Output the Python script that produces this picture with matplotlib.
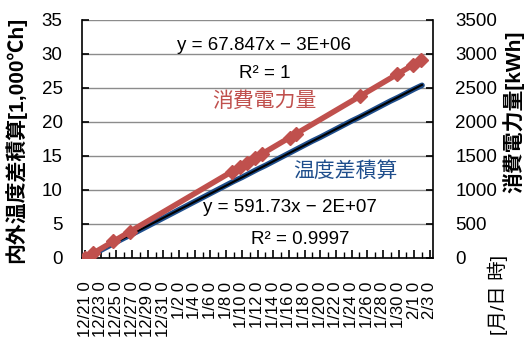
import matplotlib
matplotlib.use("Agg")
import matplotlib.pyplot as plt
import numpy as np

plt.rcParams['font.family'] = ['Liberation Sans', 'Noto Sans CJK JP', 'DejaVu Sans']
JP = ['Liberation Sans', 'Noto Sans CJK JP', 'DejaVu Sans']

# x positions are days elapsed since 12/21 0:00
tick_days = list(range(0, 45, 2))
tick_labels = ['12/21 0', '12/23 0', '12/25 0', '12/27 0', '12/29 0', '12/31 0',
               '1/2 0', '1/4 0', '1/6 0', '1/8 0', '1/10 0', '1/12 0', '1/14 0',
               '1/16 0', '1/18 0', '1/20 0', '1/22 0', '1/24 0', '1/26 0',
               '1/28 0', '1/30 0', '2/1 0', '2/3 0']

# accumulated indoor/outdoor temperature difference [1,000 ℃h], daily
temp_days = list(range(0, 44))
temp_accum = [0.0, 0.55, 1.15, 1.75, 2.35, 2.95, 3.5, 4.1, 4.7, 5.3, 5.9, 6.5,
              7.1, 7.7, 8.3, 8.9, 9.5, 10.1, 10.7, 11.3, 11.85, 12.45, 13.05,
              13.6, 14.2, 14.8, 15.4, 16.0, 16.6, 17.2, 17.75, 18.35, 18.95,
              19.55, 20.15, 20.7, 21.3, 21.9, 22.5, 23.1, 23.65, 24.25, 24.85,
              25.4]

# electricity meter readings [kWh]
power_days = [0.0, 1.0, 3.6, 5.7, 18.75, 19.8, 20.7, 21.7, 22.6, 26.1, 26.9,
              35.1, 39.8, 41.8, 42.9]
power_kwh = [0, 68, 244, 387, 1272, 1343, 1404, 1472, 1533, 1771, 1825,
             2381, 2700, 2836, 2911]

red = '#C0504D'
blue = '#1F4E8C'

fig = plt.figure(figsize=(5.26, 3.45), dpi=100)
ax = fig.add_axes([82 / 526, 1 - 258 / 345, (433 - 82) / 526, (258 - 20) / 345])
ax2 = ax.twinx()

ax.set_xlim(-0.4, 44.4)
ax.set_ylim(0, 35)
ax2.set_ylim(0, 3500)

ax.yaxis.grid(True, color='#8c8c8c', linewidth=1.0)
ax.set_axisbelow(True)

# temperature-difference series with its linear trend
ax.plot(temp_days, temp_accum, color=blue, linewidth=4, solid_capstyle='round', zorder=3)
c1 = np.polyfit(temp_days, temp_accum, 1)
xt = np.array([temp_days[0], temp_days[-1]])
ax.plot(xt, np.polyval(c1, xt), color='black', linewidth=1.5, zorder=4)

# electricity series with its linear trend
ax2.plot(power_days, power_kwh, color=red, linewidth=4, marker='D', markersize=7,
         markeredgecolor=red, markerfacecolor=red, zorder=3)
c2 = np.polyfit(power_days, power_kwh, 1)
xp = np.array([power_days[0], power_days[-1]])
ax2.plot(xp, np.polyval(c2, xp), color=red, linewidth=1.5, zorder=4)

# axes styling
for a in (ax, ax2):
    for s in a.spines.values():
        s.set_visible(False)
ax.spines['left'].set_visible(True)
ax.spines['bottom'].set_visible(True)
ax2.spines['right'].set_visible(True)
for sp in (ax.spines['left'], ax.spines['bottom'], ax2.spines['right']):
    sp.set_color('black')
    sp.set_linewidth(1.2)

ax.set_xticks(tick_days)
ax.set_xticks(range(0, 45), minor=True)
ax.set_xticklabels(tick_labels, rotation=90, fontsize=12, va='top', ha='center')
ax.tick_params(axis='x', which='major', direction='in', length=6, width=1.2, pad=17)
ax.tick_params(axis='x', which='minor', direction='in', length=4, width=1.0)

ax.set_yticks(range(0, 36, 5))
ax.tick_params(axis='y', direction='in', length=5, width=1.2, labelsize=13.5, pad=14)
ax2.set_yticks(range(0, 3501, 500))
ax2.tick_params(axis='y', direction='in', length=5, width=1.2, labelsize=13.5, pad=16)

fig.text(15 / 526, 1 - 140 / 345, '内外温度差積算[1,000℃h]', rotation=90,
         ha='center', va='center', fontsize=15, fontweight='bold', family=JP)
fig.text(513 / 526, 1 - 112 / 345, '消費電力量[kWh]', rotation=90,
         ha='center', va='center', fontsize=15, fontweight='bold', family=JP)
fig.text(498 / 526, 1 - 295 / 345, '[月/日 時]', rotation=90,
         ha='center', va='center', fontsize=14, family=JP)

# trendline equations and series names
def ftext(x, y, s, **kw):
    fig.text(x / 526, 1 - y / 345, s, ha='center', va='center', **kw)

ftext(264, 45, 'y = 67.847x − 3E+06', fontsize=13.5)
ftext(265, 73, 'R² = 1', fontsize=13.5)
ftext(264, 101, '消費電力量', fontsize=15, color=red, family=JP)
ftext(345, 171, '温度差積算', fontsize=15, color=blue, family=JP)
ftext(290, 208, 'y = 591.73x − 2E+07', fontsize=13.5)
ftext(300, 240, 'R² = 0.9997', fontsize=13.5)

fig.savefig('out.png', dpi=100)
